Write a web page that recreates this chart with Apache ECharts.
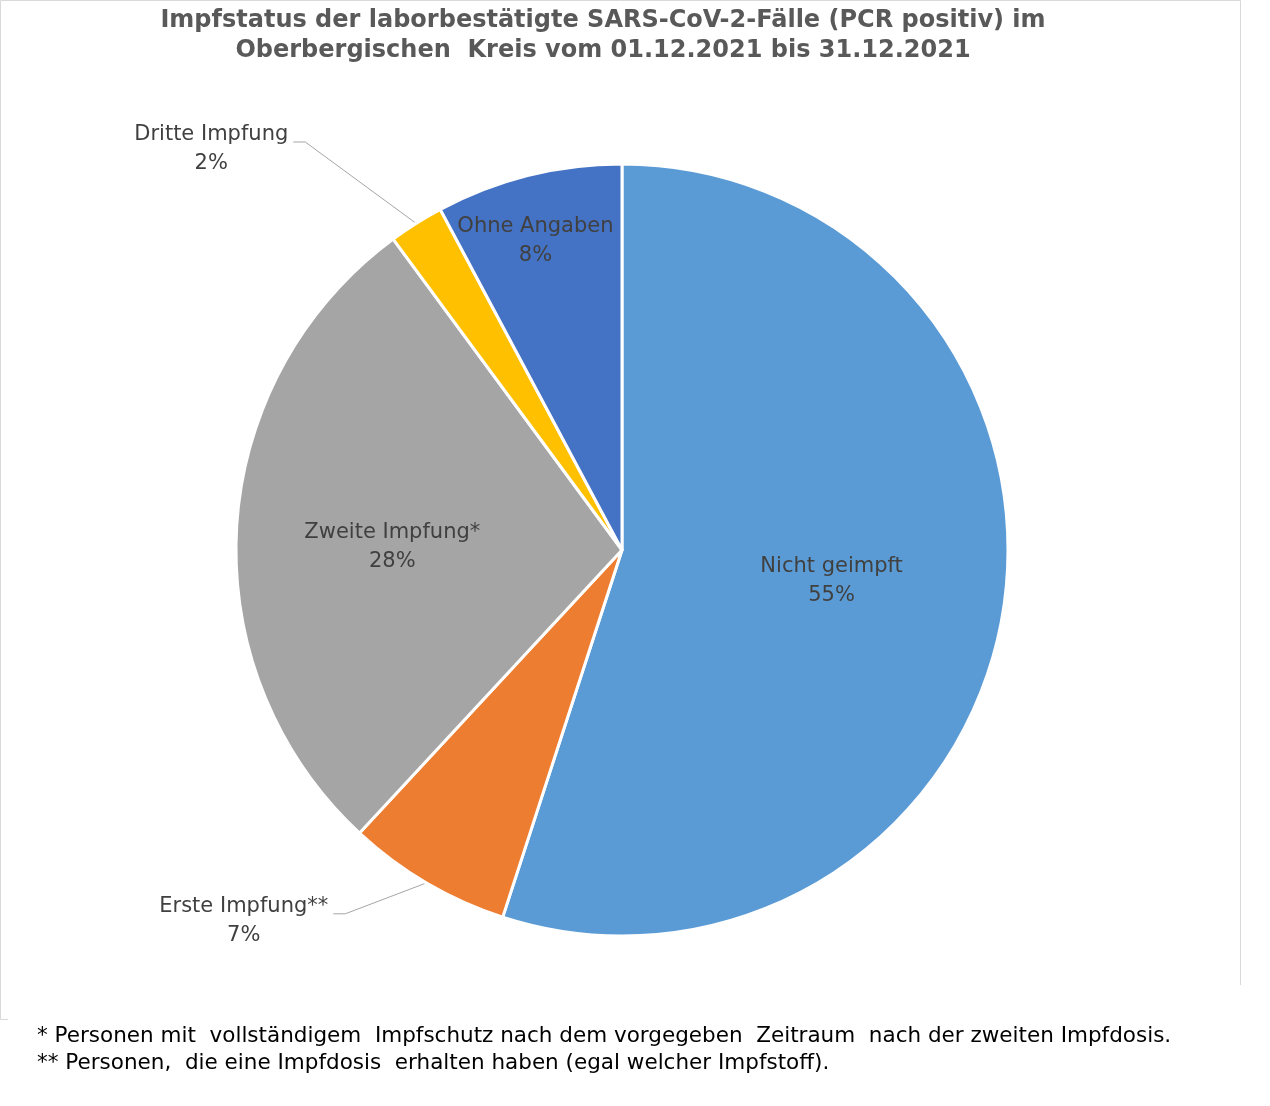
<!DOCTYPE html>
<html>
<head>
<meta charset="utf-8">
<script src="https://cdn.jsdelivr.net/npm/echarts@6/dist/echarts.min.js"></script>
<style>
  html, body { margin: 0; padding: 0; background: #fff; }
  #chart { width: 1270px; height: 1106px; }
</style>
</head>
<body>
<div id="chart"></div>
<script>
// Impfstatus, Anteile in Prozent
const categories = ['Nicht geimpft', 'Erste Impfung**', 'Zweite Impfung*', 'Dritte Impfung', 'Ohne Angaben'];
const shares = [55.0, 6.9, 28.0, 2.3, 7.8];
const colors = ['#5B9BD5', '#ED7D31', '#A5A5A5', '#FFC000', '#4472C4'];
const outsideLabels = ['Erste Impfung**', 'Dritte Impfung'];

const titleLines = [
  'Impfstatus der laborbestätigte SARS-CoV-2-Fälle (PCR positiv) im',
  'Oberbergischen  Kreis vom 01.12.2021 bis 31.12.2021'
];
const footnotes = [
  '* Personen mit  vollständigem  Impfschutz nach dem vorgegeben  Zeitraum  nach der zweiten Impfdosis.',
  '** Personen,  die eine Impfdosis  erhalten haben (egal welcher Impfstoff).'
];

const displayChart = function(where) {
  var chartDom = document.getElementById(where);
  var myChart = echarts.init(chartDom);
  var option;

  // small nudges so the inside labels sit where Excel put them
  var insideShift = {
    'Nicht geimpft': [16, 0],
    'Zweite Impfung*': [-34, 8],
    'Ohne Angaben': [-39, -119]
  };

  var data = categories.map(function(name, i) {
    var item = { name: name, value: shares[i], itemStyle: { color: colors[i] } };
    if (outsideLabels.indexOf(name) >= 0) {
      item.label = { position: 'outside' };
      item.labelLine = { show: true };
    }
    return item;
  });
  // leader line lengths for the two outer labels
  data[1].labelLine.length = 44;
  data[1].labelLine.length2 = 71;
  data[3].labelLine.length = 88;
  data[3].labelLine.length2 = 76;

  option = {
    animation: false,
    backgroundColor: '#fff',
    title: {
      text: titleLines.join('\n'),
      left: 598,
      top: 1,
      textAlign: 'center',
      textStyle: {
        fontFamily: 'DejaVu Sans',
        fontWeight: 'bold',
        fontSize: 24,
        lineHeight: 30,
        color: '#595959'
      }
    },
    graphic: [
      {
        type: 'rect',
        z: -10,
        shape: { x: 0.5, y: 0.5, width: 1240, height: 1019 },
        style: { fill: 'none', stroke: '#d9d9d9', lineWidth: 1 }
      },
      {
        type: 'rect',
        z: -5,
        shape: { x: 8, y: 985, width: 1262, height: 121 },
        style: { fill: '#fff' }
      },
      {
        type: 'text',
        left: 37,
        top: 1023,
        style: {
          text: footnotes.join('\n'),
          font: '21.5px "DejaVu Sans"',
          lineHeight: 27,
          fill: '#000'
        }
      }
    ],
    series: [
      {
        type: 'pie',
        center: [622, 550],
        radius: 386,
        startAngle: 90,
        clockwise: true,
        avoidLabelOverlap: false,
        itemStyle: { borderColor: '#fff', borderWidth: 3 },
        label: {
          show: true,
          position: 'inside',
          formatter: function(p) { return p.name + '\n' + Math.round(p.value) + '%'; },
          fontFamily: 'DejaVu Sans',
          fontSize: 21,
          lineHeight: 29,
          color: '#404040',
          textBorderWidth: 0
        },
        labelLine: {
          show: false,
          lineStyle: { color: '#a6a6a6', width: 1 }
        },
        labelLayout: function(params) {
          var name = params.text.split('\n')[0];
          var s = insideShift[name];
          if (s) return { dx: s[0], dy: s[1] };
          if (params.labelLinePoints) {
            // centre the two text lines and draw an Excel-like leader
            var r = params.labelRect;
            var edge = params.labelLinePoints[0];
            var ly = r.y + r.height / 2 - 7;
            return {
              x: r.x + r.width / 2,
              y: r.y + r.height / 2,
              align: 'center',
              verticalAlign: 'middle',
              labelLinePoints: [edge, [r.x + r.width + 17, ly], [r.x + r.width + 5, ly]]
            };
          }
          return {};
        },
        emphasis: { disabled: true },
        data: data
      }
    ]
  };

  option && myChart.setOption(option);
};

displayChart('chart');
</script>
</body>
</html>
